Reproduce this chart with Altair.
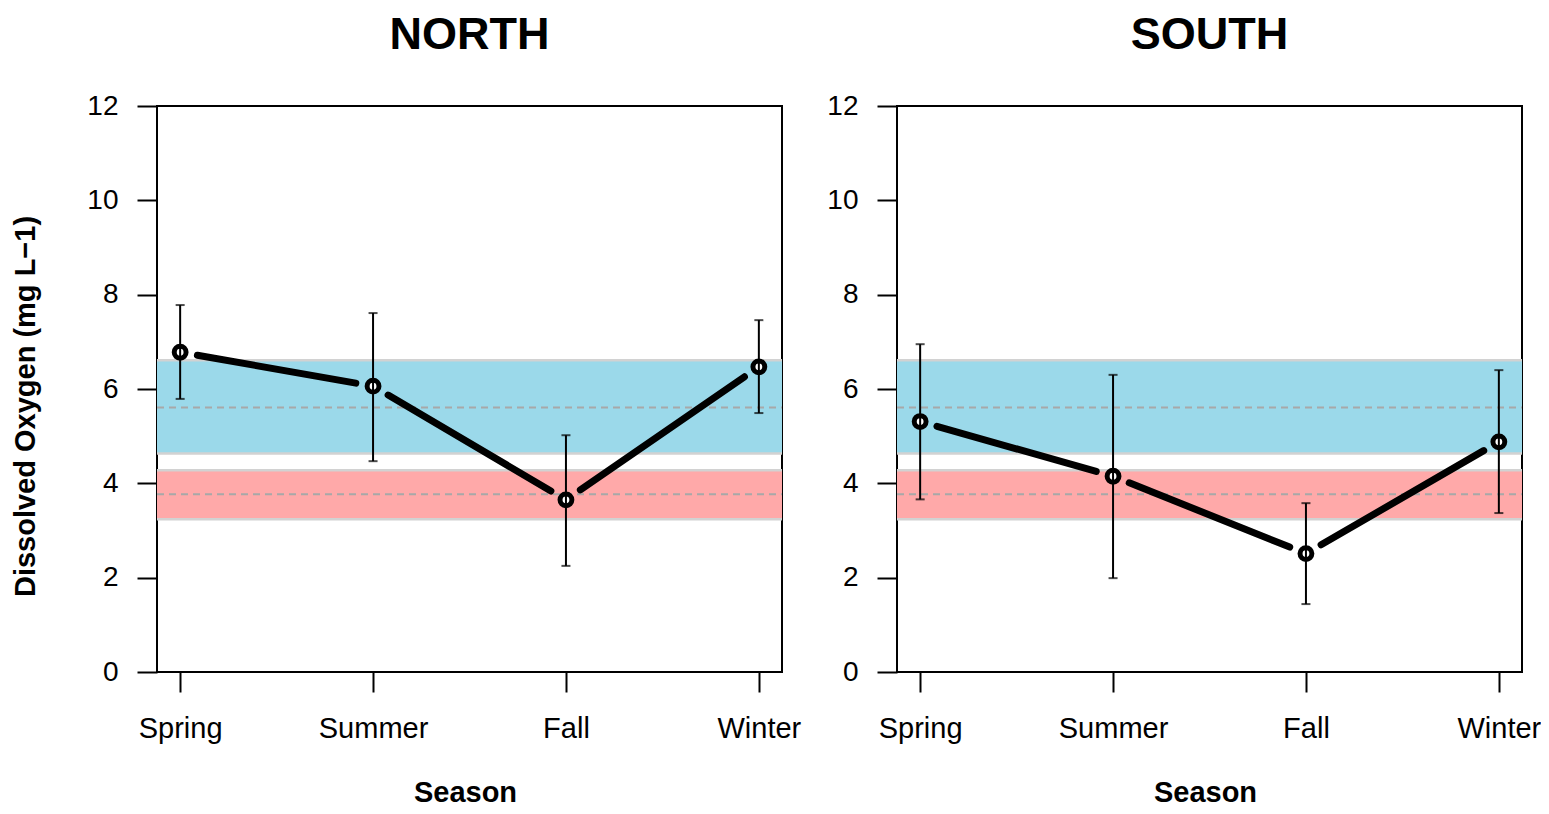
import math
import altair as alt
import pandas as pd

# ---------------- data ----------------
seasons = ["Spring", "Summer", "Fall", "Winter"]
season_pos = [1, 2, 3, 4]

north_mean = [6.78, 6.06, 3.65, 6.47]
north_lo = [5.79, 4.47, 2.25, 5.49]
north_hi = [7.78, 7.61, 5.02, 7.46]

south_mean = [5.31, 4.15, 2.51, 4.88]
south_lo = [3.66, 1.99, 1.44, 3.37]
south_hi = [6.95, 6.30, 3.58, 6.40]

band_names = ["blue", "red"]
band_lo = [4.63, 3.24]
band_hi = [6.61, 4.28]
band_mid = [5.61, 3.77]
band_colors = ["#9bd9ea", "#ffa9a9"]

y_ticks = [0, 2, 4, 6, 8, 10, 12]

# ---------------- layout ----------------
W, H = 625, 566
XMIN, XMAX = 0.88, 4.12
YMIN, YMAX = 0, 12
FONT = "Liberation Sans"
LINE_W = 7
GAP = 17.5  # pixel gap between the connecting line ends and point centres

label_expr = "[" + ",".join("'" + s + "'" for s in seasons) + "][datum.value - 1]"

bands = pd.DataFrame({"band": band_names, "lo": band_lo, "hi": band_hi,
                      "mid": band_mid, "color": band_colors})


def segments(means):
    px_x = W / (XMAX - XMIN)
    px_y = H / (YMAX - YMIN)
    rows = []
    for i in range(len(means) - 1):
        x1, y1, x2, y2 = season_pos[i], means[i], season_pos[i + 1], means[i + 1]
        L = math.hypot((x2 - x1) * px_x, (y2 - y1) * px_y)
        t = GAP / L
        rows.append({"sx": x1 + t * (x2 - x1), "sy": y1 + t * (y2 - y1),
                     "ex": x2 - t * (x2 - x1), "ey": y2 - t * (y2 - y1)})
    return pd.DataFrame(rows)


def panel(name, means, lo, hi, show_ytitle):
    df = pd.DataFrame({"pos": season_pos, "season": seasons,
                       "mean": means, "lo": lo, "hi": hi})
    xs = alt.Scale(domain=[XMIN, XMAX], nice=False, zero=False)
    ys = alt.Scale(domain=[YMIN, YMAX], nice=False)
    xaxis = alt.Axis(values=season_pos, labelExpr=label_expr, title="Season",
                     titleX=308)
    if show_ytitle:
        yaxis = alt.Axis(values=y_ticks, title="Dissolved Oxygen (mg L\u22121)",
                         titleY=300)
    else:
        yaxis = alt.Axis(values=y_ticks, title=None)

    X = alt.X("pos:Q", scale=xs, axis=xaxis)
    Y = alt.Y("mean:Q", scale=ys, axis=yaxis)

    band_rect = alt.Chart(bands).mark_rect().encode(
        x=alt.value(0), x2=alt.value("width"),
        y=alt.Y("lo:Q", scale=ys, axis=yaxis), y2="hi:Q",
        color=alt.Color("color:N", scale=None),
    )
    band_edge_lo = alt.Chart(bands).mark_rule(color="#d2d2d2", strokeWidth=2.5).encode(
        x=alt.value(0), x2=alt.value("width"), y=alt.Y("lo:Q", scale=ys))
    band_edge_hi = alt.Chart(bands).mark_rule(color="#d2d2d2", strokeWidth=2.5).encode(
        x=alt.value(0), x2=alt.value("width"), y=alt.Y("hi:Q", scale=ys))
    band_dash = alt.Chart(bands).mark_rule(color="#a8a8a8", strokeWidth=2,
                                           strokeDash=[7, 5]).encode(
        x=alt.value(0), x2=alt.value("width"), y=alt.Y("mid:Q", scale=ys))

    seg = alt.Chart(segments(means)).mark_rule(
        color="black", strokeWidth=LINE_W, strokeCap="round").encode(
        x=alt.X("sx:Q", scale=xs, axis=xaxis), y=alt.Y("sy:Q", scale=ys),
        x2="ex:Q", y2="ey:Q")

    pts = alt.Chart(df).mark_point(
        shape="circle", filled=False, fill="white", fillOpacity=1,
        stroke="black", strokeWidth=5, size=140, opacity=1).encode(x=X, y=Y)

    err = alt.Chart(df).mark_rule(color="black", strokeWidth=2).encode(
        x=X, y=alt.Y("lo:Q", scale=ys), y2="hi:Q")
    cap_lo = alt.Chart(df).mark_tick(color="black", orient="horizontal",
                                     size=9, thickness=2).encode(
        x=X, y=alt.Y("lo:Q", scale=ys))
    cap_hi = alt.Chart(df).mark_tick(color="black", orient="horizontal",
                                     size=9, thickness=2).encode(
        x=X, y=alt.Y("hi:Q", scale=ys))

    return alt.layer(band_rect, band_edge_lo, band_edge_hi, band_dash,
                     seg, pts, err, cap_lo, cap_hi).properties(
        width=W, height=H,
        title=alt.Title(name, fontSize=45, fontWeight="bold", font=FONT,
                        color="black", offset=34.5, anchor="middle"),
    )


north = panel("NORTH", north_mean, north_lo, north_hi, True)
south = panel("SOUTH", south_mean, south_lo, south_hi, False)

chart = alt.hconcat(north, south, spacing=23).properties(
    padding={"left": 2, "top": 3, "right": -1, "bottom": 0}
).configure_view(
    stroke="black", strokeWidth=2
).configure_axis(
    grid=False, domain=False,
    tickColor="black", tickWidth=2, tickSize=20,
    labelFont=FONT, labelColor="black",
    titleFont=FONT, titleFontSize=29, titleFontWeight="bold", titleColor="black",
).configure_axisY(
    labelFontSize=28, labelPadding=19, titlePadding=46,
).configure_axisX(
    labelFontSize=29, labelPadding=22, titlePadding=35,
)

chart.save("out.html", embed_options={"renderer": "svg", "actions": False})
